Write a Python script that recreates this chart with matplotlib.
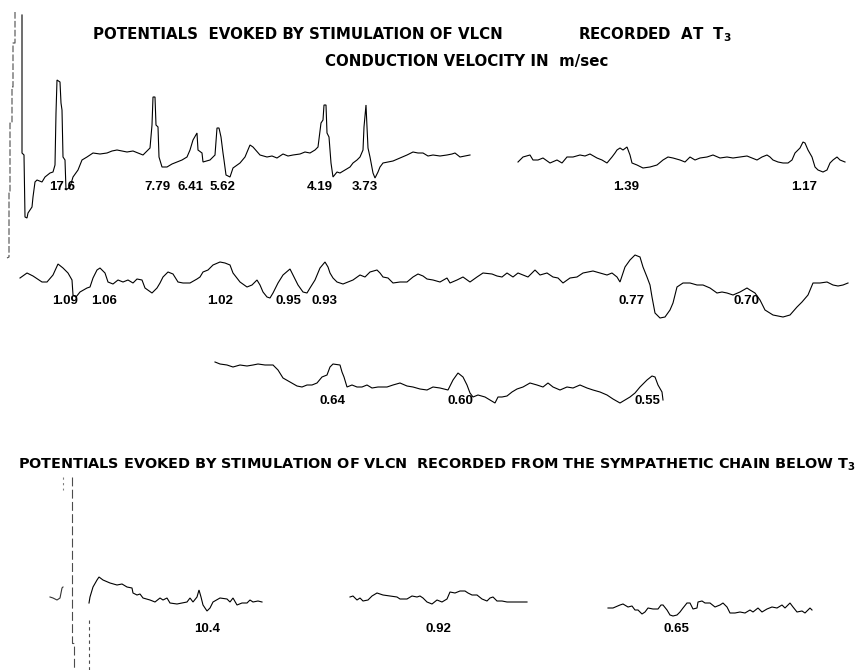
import matplotlib
matplotlib.use("Agg")
import matplotlib.pyplot as plt

# sweep samples: (sweep position, trace level), page units, y grows downward
# top record, left sweep (stimulus artifact + fast components)
artifact_top = [(15, 12), (15, 43), (13, 43), (13, 87), (12, 87), (12, 123), (10, 123),
                (10, 193), (9, 193), (9, 257), (7, 258)]
sweep_top_a = [(22, 15), (22, 153), (24, 155), (25, 217), (27, 218), (28, 213), (32, 207),
               (33, 197), (35, 182), (37, 180), (42, 182), (45, 177), (50, 173), (53, 172),
               (55, 165), (56, 113), (57, 80), (60, 82), (61, 103), (62, 110), (63, 157),
               (65, 160), (66, 190), (70, 187), (73, 177), (78, 170), (82, 160), (87, 157),
               (93, 153), (100, 154), (107, 153), (112, 151), (117, 150), (122, 151),
               (127, 152), (133, 151), (138, 153), (143, 155), (148, 150), (150, 148),
               (152, 125), (153, 97), (155, 97), (156, 125), (158, 127), (159, 157),
               (162, 167), (167, 167), (172, 164), (177, 162), (182, 160), (187, 157),
               (190, 150), (193, 140), (197, 133), (198, 150), (202, 153), (203, 162),
               (210, 160), (215, 155), (217, 128), (219, 128), (221, 137), (223, 153),
               (224, 160), (226, 175), (230, 177), (233, 168), (240, 163), (245, 157),
               (250, 145), (253, 147), (260, 155), (267, 157), (272, 156), (277, 158),
               (283, 154), (288, 156), (293, 155), (300, 154), (305, 152), (310, 153),
               (315, 150), (318, 147), (321, 123), (323, 120), (324, 105), (326, 105),
               (327, 133), (329, 137), (331, 163), (333, 177), (337, 172), (340, 173),
               (345, 170), (350, 167), (353, 163), (357, 160), (360, 157), (363, 150),
               (364, 127), (366, 105), (367, 127), (368, 148), (370, 157), (373, 173),
               (375, 178), (378, 172), (380, 167), (383, 163), (388, 162), (393, 161),
               (400, 158), (407, 155), (413, 152), (418, 153), (423, 153), (428, 156),
               (433, 155), (440, 156), (447, 155), (452, 154), (455, 153), (460, 157),
               (465, 156), (470, 155)]
# top record, right sweep
sweep_top_b = [(518, 162), (523, 157), (530, 155), (533, 160), (538, 160), (543, 158),
               (550, 163), (557, 160), (562, 163), (567, 157), (573, 157), (580, 155),
               (585, 156), (590, 154), (597, 158), (602, 160), (607, 163), (612, 157),
               (615, 153), (617, 150), (620, 148), (623, 150), (627, 147), (630, 155),
               (632, 163), (637, 165), (643, 168), (650, 167), (657, 165), (663, 160),
               (668, 157), (673, 158), (680, 160), (685, 162), (690, 157), (695, 160),
               (700, 158), (707, 157), (713, 155), (720, 158), (727, 157), (733, 158),
               (740, 157), (747, 156), (752, 158), (757, 160), (762, 157), (767, 155),
               (770, 157), (773, 160), (778, 162), (783, 163), (788, 163), (792, 160),
               (795, 153), (800, 148), (803, 142), (805, 143), (808, 150), (812, 157),
               (815, 167), (818, 170), (823, 172), (827, 170), (830, 163), (833, 160),
               (837, 157), (840, 160), (845, 162)]
# second record
sweep_mid = [(20, 278), (27, 273), (33, 276), (42, 282), (47, 282), (53, 275), (58, 264),
             (63, 268), (68, 273), (72, 280), (73, 295), (76, 297), (80, 292), (87, 288),
             (90, 287), (93, 278), (97, 270), (100, 268), (105, 273), (108, 282), (113, 284),
             (118, 280), (123, 282), (128, 280), (133, 283), (137, 279), (142, 280),
             (145, 288), (152, 293), (157, 288), (160, 283), (163, 277), (168, 272),
             (173, 274), (178, 282), (183, 283), (190, 283), (197, 279), (200, 277),
             (203, 272), (208, 270), (213, 265), (220, 262), (225, 263), (230, 265),
             (233, 273), (240, 282), (247, 287), (252, 285), (257, 280), (260, 285),
             (263, 292), (267, 297), (270, 298), (273, 293), (278, 283), (283, 275),
             (290, 269), (293, 275), (298, 285), (303, 292), (307, 293), (310, 288),
             (315, 280), (320, 268), (325, 262), (328, 267), (330, 273), (333, 278),
             (337, 282), (343, 284), (348, 282), (353, 280), (360, 275), (365, 277),
             (370, 272), (377, 270), (380, 273), (383, 277), (388, 278), (393, 283),
             (400, 282), (407, 282), (413, 277), (418, 274), (423, 276), (427, 279),
             (433, 280), (440, 282), (447, 278), (450, 283), (457, 280), (463, 277),
             (470, 282), (477, 277), (483, 273), (492, 274), (497, 276), (502, 277),
             (507, 273), (513, 277), (518, 273), (523, 275), (528, 277), (535, 270),
             (540, 275), (547, 273), (553, 277), (558, 278), (563, 283), (570, 278),
             (577, 277), (583, 273), (588, 272), (593, 271), (600, 273), (607, 275),
             (612, 273), (617, 277), (620, 282), (625, 267), (630, 260), (635, 255),
             (640, 257), (643, 267), (647, 277), (650, 285), (652, 297), (655, 313),
             (660, 318), (665, 317), (670, 310), (673, 303), (677, 287), (683, 283),
             (690, 283), (697, 285), (703, 285), (710, 288), (717, 293), (722, 292),
             (727, 293), (733, 295), (740, 292), (747, 288), (750, 290), (755, 293),
             (760, 300), (765, 310), (773, 315), (783, 317), (790, 315), (797, 307),
             (802, 302), (808, 295), (813, 283), (820, 283), (827, 282), (833, 285),
             (838, 286), (843, 285), (848, 283)]
# third record (slow components)
sweep_low = [(215, 362), (220, 364), (227, 365), (233, 367), (240, 365), (247, 366),
             (253, 365), (258, 364), (265, 365), (273, 365), (278, 370), (283, 378),
             (290, 382), (297, 386), (302, 387), (307, 385), (312, 385), (317, 383),
             (322, 377), (327, 375), (330, 367), (333, 364), (340, 365), (342, 372),
             (344, 377), (347, 387), (352, 385), (357, 387), (362, 387), (367, 385),
             (372, 388), (378, 387), (387, 387), (393, 385), (400, 383), (407, 386),
             (413, 387), (420, 389), (427, 390), (433, 387), (440, 388), (448, 390),
             (453, 380), (458, 373), (463, 377), (467, 385), (470, 393), (473, 397),
             (478, 395), (485, 397), (490, 400), (495, 403), (498, 397), (502, 397),
             (507, 396), (512, 392), (517, 389), (523, 387), (530, 383), (537, 385),
             (543, 387), (548, 383), (553, 387), (560, 390), (567, 387), (573, 388),
             (580, 385), (587, 388), (593, 390), (600, 392), (607, 395), (613, 399),
             (620, 403), (625, 400), (630, 397), (635, 393), (640, 387), (647, 380),
             (652, 376), (655, 377), (658, 385), (662, 392), (663, 400)]
# lower record: sympathetic chain below T3
artifact_low = [(72, 477), (72, 643), (74, 643), (74, 670)]
artifact_low_b = [(89, 620), (89, 670)]
artifact_low_c = [(63, 477), (63, 490)]
sweep_chain_pre = [(50, 597), (53, 598), (57, 600), (60, 598), (62, 588), (63, 587)]
sweep_chain_a = [(89, 603), (90, 597), (93, 587), (97, 580), (99, 577), (103, 580),
                 (110, 583), (117, 585), (122, 584), (127, 587), (132, 588), (133, 593),
                 (137, 595), (140, 594), (143, 598), (150, 600), (155, 602), (160, 598),
                 (163, 600), (167, 598), (170, 603), (177, 604), (182, 603), (187, 602),
                 (190, 598), (193, 602), (197, 597), (199, 590), (201, 597), (203, 605),
                 (207, 611), (210, 608), (213, 602), (220, 598), (227, 599), (230, 602),
                 (233, 598), (237, 605), (242, 603), (247, 603), (250, 600), (253, 602),
                 (258, 601), (262, 602)]
sweep_chain_b = [(350, 597), (353, 596), (357, 600), (360, 598), (363, 601), (368, 600),
                 (372, 596), (377, 593), (383, 595), (390, 596), (397, 597), (400, 599),
                 (407, 599), (412, 596), (417, 597), (420, 596), (423, 598), (427, 602),
                 (432, 604), (437, 600), (442, 602), (447, 599), (450, 592), (455, 593),
                 (460, 591), (465, 591), (468, 593), (472, 595), (477, 595), (482, 599),
                 (487, 601), (490, 598), (493, 597), (497, 601), (502, 601), (507, 602),
                 (513, 602), (520, 602), (527, 602)]
sweep_chain_c = [(608, 608), (613, 608), (620, 605), (623, 604), (628, 607), (632, 606),
                 (635, 610), (638, 610), (642, 614), (645, 612), (648, 608), (653, 609),
                 (658, 609), (661, 605), (663, 605), (667, 610), (670, 615), (673, 616),
                 (677, 615), (680, 612), (683, 608), (687, 603), (690, 603), (693, 609),
                 (697, 608), (698, 602), (702, 601), (705, 603), (710, 603), (715, 607),
                 (720, 605), (723, 603), (727, 607), (730, 613), (735, 613), (740, 612),
                 (745, 613), (750, 610), (753, 612), (758, 608), (762, 612), (767, 609),
                 (772, 607), (777, 608), (782, 605), (785, 608), (790, 603), (793, 607),
                 (797, 612), (802, 611), (805, 613), (810, 608), (812, 610)]

# conduction velocities (m/sec) and the sweep position they are written under
vel_row1 = ["17.6", "7.79", "6.41", "5.62", "4.19", "3.73", "1.39", "1.17"]
vel_row1_t = [62, 157, 190, 222, 320, 365, 626, 804]
vel_row2 = ["1.09", "1.06", "1.02", "0.95", "0.93", "0.77", "0.70"]
vel_row2_t = [65, 104, 220, 288, 325, 632, 747]
vel_row3 = ["0.64", "0.60", "0.55"]
vel_row3_t = [332, 460, 647]
vel_chain = ["10.4", "0.92", "0.65"]
vel_chain_t = [207, 438, 676]


def draw_trace(ax, pts, **kw):
    t, v = zip(*pts)
    ax.plot(t, v, color="black", lw=kw.pop("lw", 0.8), solid_joinstyle="miter", **kw)


def main():
    fig = plt.figure(figsize=(8.65, 6.70), dpi=100)
    ax = fig.add_axes([0, 0, 1, 1])
    ax.set_xlim(0, 865)
    ax.set_ylim(670, 0)
    ax.axis("off")

    plt.rcParams["mathtext.default"] = "bf"

    # artifacts are faint / broken on the plate
    draw_trace(ax, artifact_top, ls=(0, (6, 2)), alpha=0.7)
    draw_trace(ax, artifact_low, ls=(0, (8, 3)), alpha=0.7)
    draw_trace(ax, artifact_low_b, ls=(0, (3, 3)), alpha=0.7)
    draw_trace(ax, artifact_low_c, ls=(0, (2, 3)), alpha=0.5)

    for sweep in [sweep_top_a, sweep_top_b, sweep_mid, sweep_low,
                  sweep_chain_a, sweep_chain_b, sweep_chain_c]:
        draw_trace(ax, sweep)
    draw_trace(ax, sweep_chain_pre, alpha=0.8)

    lab = dict(fontsize=9.5, fontweight="bold", family="Liberation Sans",
               ha="center", va="center")
    for txt, t in zip(vel_row1, vel_row1_t):
        ax.text(t, 187, txt, **lab)
    for txt, t in zip(vel_row2, vel_row2_t):
        ax.text(t, 301, txt, **lab)
    for txt, t in zip(vel_row3, vel_row3_t):
        ax.text(t, 401, txt, **lab)
    for txt, t in zip(vel_chain, vel_chain_t):
        ax.text(t, 629, txt, **lab)

    ttl = dict(fontsize=10.8, fontweight="bold", family="DejaVu Sans", va="baseline")
    ax.text(93, 39, "POTENTIALS  EVOKED BY STIMULATION OF VLCN", ha="left", **ttl)
    ax.text(578, 39, "RECORDED  AT  T$_3$", ha="left", **ttl)
    ax.text(325, 66, "CONDUCTION VELOCITY IN  m/sec", ha="left", **ttl)

    # lower heading is set narrower on the plate
    ttl["fontsize"] = 10.4
    ax.text(18, 469, "POTENTIALS EVOKED BY STIMULATION OF VLCN  RECORDED FROM THE "
            "SYMPATHETIC CHAIN BELOW T$_3$", ha="left", **ttl)

    fig.savefig("out.png", dpi=100, facecolor="white")


if __name__ == "__main__":
    main()
